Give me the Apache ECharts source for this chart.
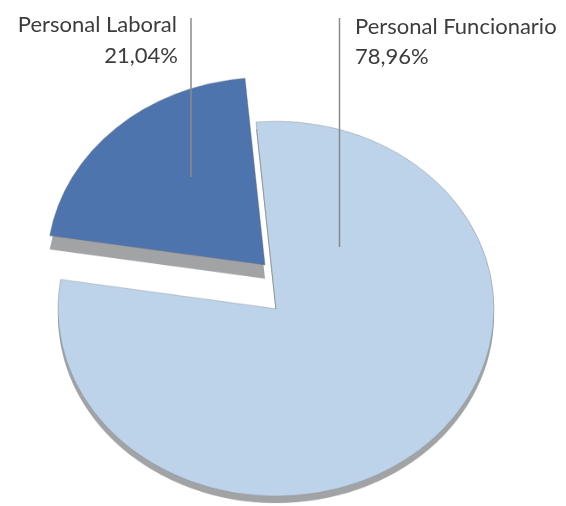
<!DOCTYPE html>
<html>
<head>
<meta charset="utf-8">
<script src="https://cdn.jsdelivr.net/npm/echarts@6/dist/echarts.min.js"></script>
<style>
  html, body { margin: 0; padding: 0; background: #fff; overflow: hidden; }
  #wrap { position: relative; width: 566px; height: 506px; overflow: hidden; }
  /* pie is drawn round, then squashed to get the tilted look */
  #pie { position: absolute; left: 0; top: 0; width: 566px; height: 600px;
         transform: scaleY(0.86); transform-origin: 0 0; }
  #labels { position: absolute; left: 0; top: 0; width: 566px; height: 506px; }
</style>
</head>
<body>
<div id="wrap">
  <div id="pie"></div>
  <div id="labels"></div>
</div>
<script>
const categories = ["Personal Laboral", "Personal Funcionario"];
const values = [21.04, 78.96];
const colors = ["#4e74ae", "#bcd3e9"];
const sideColor = "#a2a3a5";

// per slice: centre of the (unsquashed) pie and depth of the grey side
const centers = [[265, 308], [276, 359]];
const depth = [16, 8];
const radius = 218;

function layer(k, side) {
  const c = centers[k];
  return {
    type: "pie",
    radius: radius,
    center: [c[0], c[1] + (side ? depth[k] : 0)],
    startAngle: 171,
    clockwise: true,
    silent: true,
    label: { show: false },
    labelLine: { show: false },
    emphasis: { disabled: true },
    data: categories.map((name, i) => ({
      name: name,
      value: values[i],
      itemStyle: i === k
        ? { color: side ? sideColor : colors[i],
            borderColor: side ? sideColor : "rgba(110,110,110,0.45)",
            borderWidth: side ? 0 : 0.8 }
        : { color: "rgba(0,0,0,0)", borderWidth: 0 }
    }))
  };
}

const pieChart = echarts.init(document.getElementById("pie"), null, { renderer: "canvas" });
pieChart.setOption({
  animation: false,
  backgroundColor: "transparent",
  series: [layer(1, true), layer(1, false), layer(0, true), layer(0, false)]
});

const fmt = v => v.toFixed(2).replace(".", ",") + "%";
const textStyle = { fontFamily: "Lato", fontSize: 22, fill: "#3c3c3c", verticalAlign: "middle" };
const lineStyle = { stroke: "#8a8a8a", lineWidth: 1.5 };

const labelChart = echarts.init(document.getElementById("labels"), null, { renderer: "canvas" });
labelChart.setOption({
  animation: false,
  backgroundColor: "transparent",
  graphic: [
    { type: "text", x: 177, y: 25, style: Object.assign({ text: categories[0], align: "right" }, textStyle) },
    { type: "text", x: 178, y: 56, style: Object.assign({ text: fmt(values[0]), align: "right" }, textStyle) },
    { type: "line", shape: { x1: 191, y1: 18, x2: 191, y2: 177 }, style: lineStyle },
    { type: "text", x: 355, y: 27, style: Object.assign({ text: categories[1], align: "left" }, textStyle) },
    { type: "text", x: 355, y: 57, style: Object.assign({ text: fmt(values[1]), align: "left" }, textStyle) },
    { type: "line", shape: { x1: 339.5, y1: 18, x2: 339.5, y2: 247 }, style: lineStyle }
  ]
});
</script>
</body>
</html>
